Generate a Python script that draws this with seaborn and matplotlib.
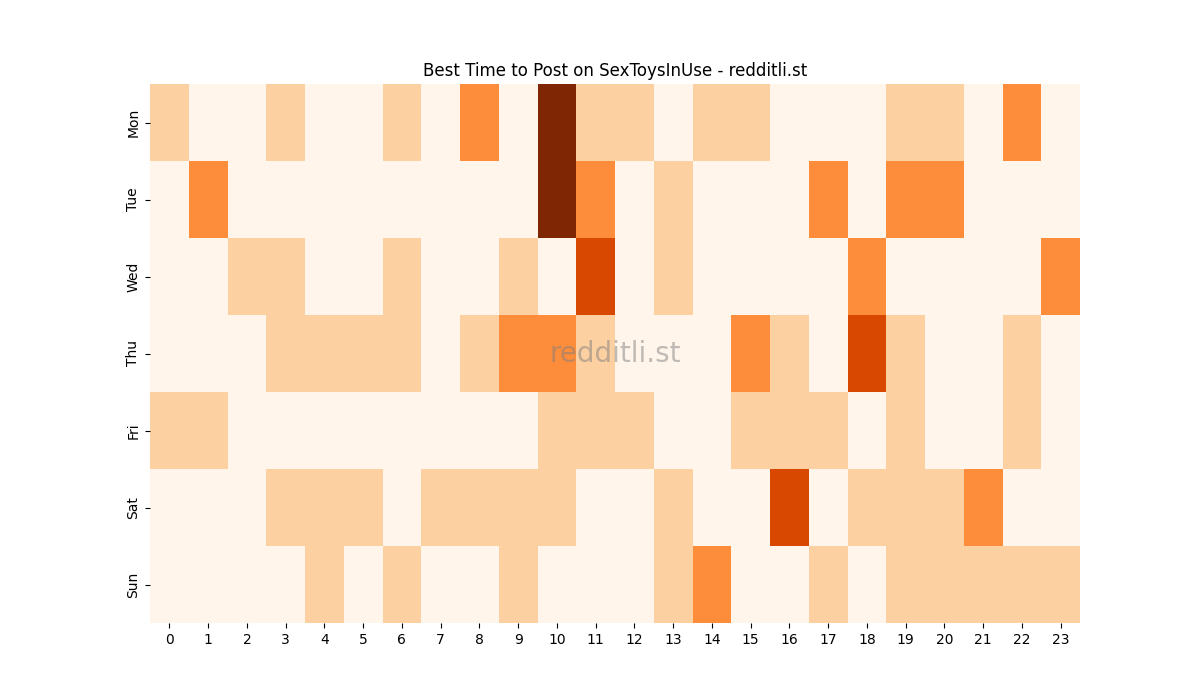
import numpy as np
import pandas as pd
import matplotlib
matplotlib.use('Agg')
import matplotlib.pyplot as plt
import seaborn as sns

# 数据：每个时段的发帖热度等级
days = ['Mon', 'Tue', 'Wed', 'Thu', 'Fri', 'Sat', 'Sun']
hours = list(range(24))

mon = [1, 0, 0, 1, 0, 0, 1, 0, 2, 0, 4, 1, 1, 0, 1, 1, 0, 0, 0, 1, 1, 0, 2, 0]
tue = [0, 2, 0, 0, 0, 0, 0, 0, 0, 0, 4, 2, 0, 1, 0, 0, 0, 2, 0, 2, 2, 0, 0, 0]
wed = [0, 0, 1, 1, 0, 0, 1, 0, 0, 1, 0, 3, 0, 1, 0, 0, 0, 0, 2, 0, 0, 0, 0, 2]
thu = [0, 0, 0, 1, 1, 1, 1, 0, 1, 2, 2, 1, 0, 0, 0, 2, 1, 0, 3, 1, 0, 0, 1, 0]
fri = [1, 1, 0, 0, 0, 0, 0, 0, 0, 0, 1, 1, 1, 0, 0, 1, 1, 1, 0, 1, 0, 0, 1, 0]
sat = [0, 0, 0, 1, 1, 1, 0, 1, 1, 1, 1, 0, 0, 1, 0, 0, 3, 0, 1, 1, 1, 2, 0, 0]
sun = [0, 0, 0, 0, 1, 0, 1, 0, 0, 1, 0, 0, 0, 1, 2, 0, 0, 1, 0, 1, 1, 1, 1, 1]

df = pd.DataFrame([mon, tue, wed, thu, fri, sat, sun], index=days, columns=hours)

fig, ax = plt.subplots(figsize=(12, 7), dpi=100)
sns.heatmap(df, cmap='Oranges', cbar=False, ax=ax)
ax.set_title('Best Time to Post on SexToysInUse - redditli.st')
ax.text(0.5, 0.5, 'redditli.st', transform=ax.transAxes, ha='center', va='center',
        fontsize=20, color='gray', alpha=0.5)

fig.savefig('out.png', dpi=100)
plt.close()
